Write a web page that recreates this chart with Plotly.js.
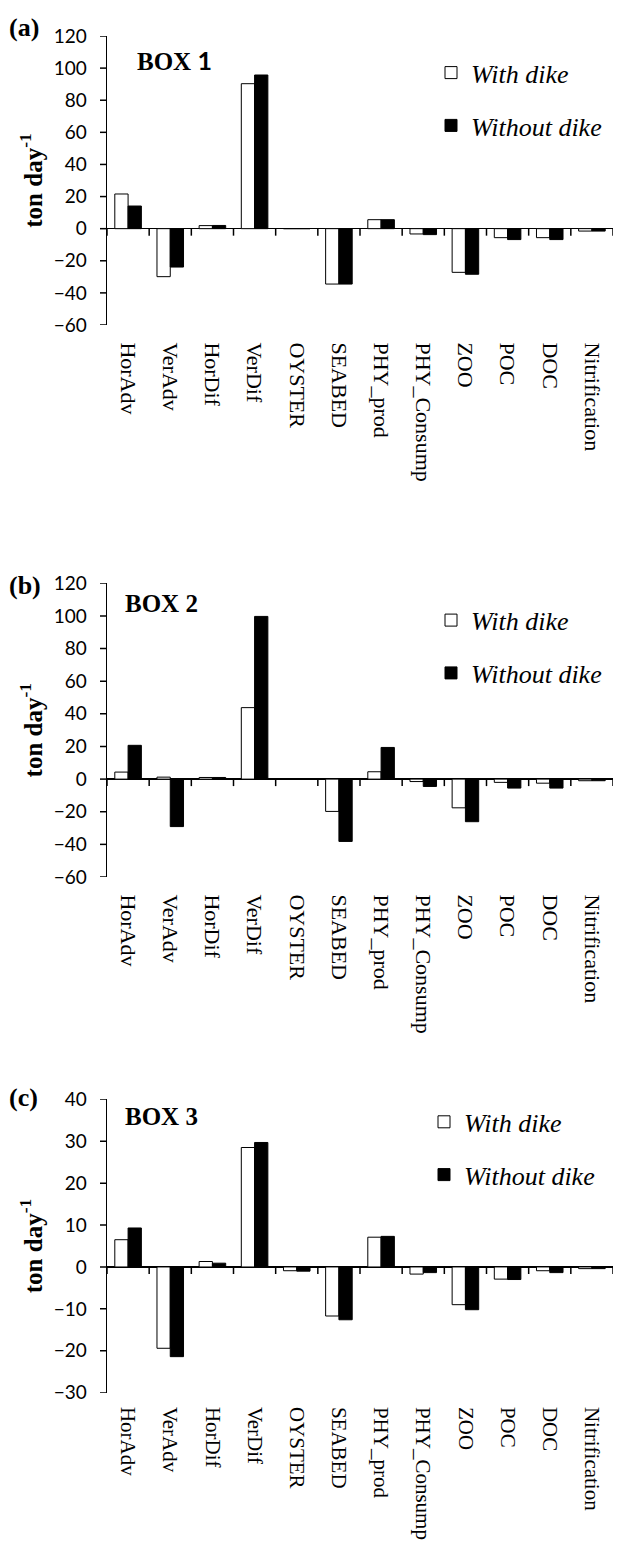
<!DOCTYPE html>
<html>
<head>
<meta charset="utf-8">
<script src="https://cdn.plot.ly/plotly-3.0.1.min.js"></script>
<style>html,body{margin:0;padding:0;background:#fff;}#chart{width:628px;height:1548px;}</style>
</head>
<body>
<div id="chart"></div>
<script>
const categories = ['HorAdv','VerAdv','HorDif','VerDif','OYSTER','SEABED','PHY_prod','PHY_Consump','ZOO','POC','DOC','Nitrification'];
const seriesNames = ['With dike','Without dike'];
const panelLetters = ['(a)','(b)','(c)'];
const boxLabels = ['BOX <span style="font-family:Lato">1</span>','BOX 2','BOX 3'];

const box1With    = [21.6, -29.9, 1.9, 90.3, 0, -34.5, 5.6, -3.3, -27.2, -5.6, -5.6, -1.5];
const box1Without = [14.1, -23.9, 2.0, 95.7, 0, -34.5, 5.6, -3.7, -28.4, -6.8, -6.8, -1.5];
const box2With    = [4.3, 1.2, 1.0, 43.8, 0, -19.8, 4.5, -1.5, -17.6, -2.0, -2.5, -1.0];
const box2Without = [20.7, -29.1, 1.0, 99.7, 0, -38.2, 19.4, -4.5, -26.1, -5.5, -5.5, -1.0];
const box3With    = [6.5, -19.4, 1.3, 28.5, -0.9, -11.7, 7.1, -1.7, -9.0, -2.9, -0.9, -0.4];
const box3Without = [9.3, -21.4, 0.9, 29.7, -1.0, -12.6, 7.3, -1.35, -10.2, -3.0, -1.35, -0.4];

const yRanges = [[-60,120],[-60,120],[-30,40]];
const yDticks = [20,20,10];

const W = 628, H = 1548;
const fx = p => p / W;
const fy = p => 1 - p / H;

const panelTop = [36, 583.3, 1099.3];
const panelBottom = [325, 877, 1392.7];
const xLeft = 107, xRight = 613;
const ticklen = 7;
const labelPad = [12, 12, 9];
const labelSize = [22, 22, 21];
const legendFirstCenter = [72.5, 620, 1121.7];
const letterY = [28, 585, 1097];
const boxX = [135, 123, 123];
const boxY = [60, 603.5, 1116.7];

const withData = [box1With, box2With, box3With];
const withoutData = [box1Without, box2Without, box3Without];
const boundaries = categories.map((_, k) => k - 0.5).concat([categories.length - 0.5]);

const traces = [];
const layout = {
  width: W, height: H,
  margin: {l:0, r:0, t:0, b:0},
  paper_bgcolor: '#fff', plot_bgcolor: '#fff',
  font: {color: '#000', family: 'Liberation Serif'},
  barmode: 'group', bargap: 0.37, bargroupgap: 0,
  showlegend: true,
  annotations: [],
  shapes: []
};

for (let i = 0; i < 3; i++) {
  const sfx = i === 0 ? '' : String(i + 1);
  const xa = 'x' + sfx, ya = 'y' + sfx;
  const legendId = 'legend' + sfx;
  traces.push({
    type: 'bar', x: categories, y: withData[i], name: seriesNames[0],
    xaxis: xa, yaxis: ya, legend: legendId, legendgroup: 'w' + i,
    marker: {color: '#ffffff', line: {color: '#000', width: 1}}
  });
  traces.push({
    type: 'bar', x: categories, y: withoutData[i], name: seriesNames[1],
    xaxis: xa, yaxis: ya, legend: legendId, legendgroup: 'wo' + i,
    marker: {color: '#000000', line: {color: '#000', width: 1}}
  });

  const [ymin, ymax] = yRanges[i];
  const d0 = fy(panelBottom[i]), d1 = fy(panelTop[i]);
  const dataPerPx = (ymax - ymin) / (panelBottom[i] - panelTop[i]);

  // category axis at the bottom carrying the rotated labels
  layout['xaxis' + sfx] = {
    domain: [fx(xLeft), fx(xRight)], anchor: ya,
    type: 'category', categoryarray: categories, range: [-0.5, categories.length - 0.5],
    showline: false, ticks: 'outside', ticklen: labelPad[i], tickcolor: 'rgba(0,0,0,0)',
    tickangle: 90,
    tickfont: {family: 'Liberation Serif', size: labelSize[i], color: '#000'},
    showgrid: false, zeroline: false, fixedrange: true
  };
  layout['yaxis' + sfx] = {
    domain: [d0, d1], anchor: xa,
    range: yRanges[i], dtick: yDticks[i], tick0: 0,
    showline: true, linecolor: '#000', linewidth: 1.5,
    ticks: 'outside', ticklen: 15, tickcolor: 'rgba(0,0,0,0)',
    tickfont: {family: 'Lato', size: 19, color: '#000'},
    showgrid: false, zeroline: true, zerolinecolor: '#000', zerolinewidth: 1.5,
    fixedrange: true,
    title: {text: 'ton day<sup>-1</sup>', standoff: 4,
            font: {family: 'Liberation Serif', size: 25, weight: 'bold', color: '#000'}}
  };
  // visible 7 px y tick marks to the left of the axis line
  for (let v = ymin; v <= ymax; v += yDticks[i]) {
    layout.shapes.push({
      type: 'line', xref: 'paper', yref: ya, layer: 'above',
      x0: fx(xLeft - ticklen), x1: fx(xLeft), y0: v, y1: v,
      line: {color: '#000', width: 1.5}
    });
  }
  // tick marks between categories, hanging from the zero line
  boundaries.forEach(b => {
    layout.shapes.push({
      type: 'line', xref: xa, yref: ya, layer: 'above',
      x0: b, x1: b, y0: 0, y1: -ticklen * dataPerPx,
      line: {color: '#000', width: 1.5}
    });
  });
  layout[legendId] = {
    x: fx(xLeft + [324, 324, 317][i]), xanchor: 'left',
    y: fy(legendFirstCenter[i] - 23.3), yanchor: 'top',
    bgcolor: 'rgba(0,0,0,0)', borderwidth: 0,
    tracegroupgap: 16,
    font: {family: 'Liberation Serif', size: 26, style: 'italic', color: '#000'}
  };
  layout.annotations.push({
    xref: 'paper', yref: 'paper', x: fx(7), y: fy(letterY[i]),
    xanchor: 'left', yanchor: 'middle', showarrow: false,
    text: panelLetters[i],
    font: {family: 'Liberation Serif', size: 26, weight: 'bold', color: '#000'}
  });
  layout.annotations.push({
    xref: 'paper', yref: 'paper', x: fx(boxX[i]), y: fy(boxY[i]),
    xanchor: 'left', yanchor: 'middle', showarrow: false,
    text: boxLabels[i],
    font: {family: 'Liberation Serif', size: 25, weight: 'bold', color: '#000'}
  });
}

Plotly.newPlot('chart', traces, layout, {displayModeBar: false, staticPlot: true});
</script>
</body>
</html>
